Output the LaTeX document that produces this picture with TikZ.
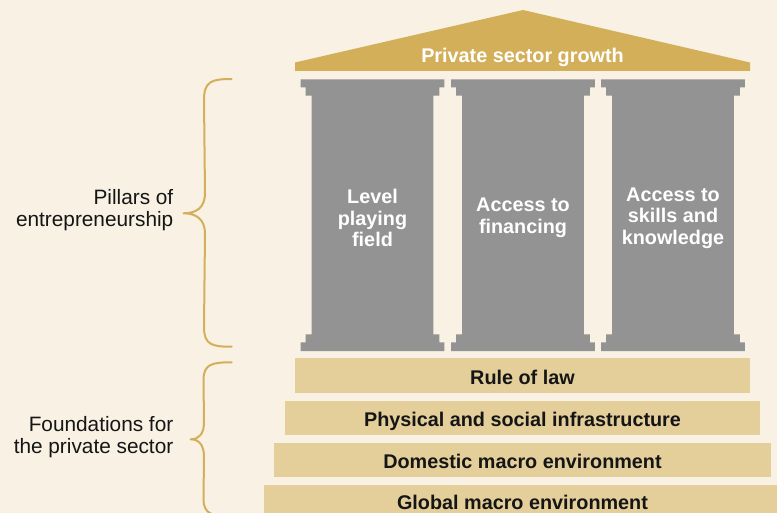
\documentclass[tikz,border=0pt]{standalone}
\usepackage{fontspec}
\setmainfont{Liberation Sans}
\definecolor{bg}{HTML}{F8F1E4}
\definecolor{gold}{HTML}{D4AF5A}
\definecolor{pillargray}{HTML}{939393}
\definecolor{sand}{HTML}{E4CF9B}
\definecolor{ink}{HTML}{151515}
\begin{document}
\begin{tikzpicture}[x=1pt,y=-1pt,
  lbl/.style={font=\fontsize{20.8}{21.8}\selectfont, text=ink, align=right, anchor=east, inner sep=0pt},
  ptext/.style={font=\fontsize{19.8}{21.5}\selectfont\bfseries, text=white, align=center, inner sep=0pt},
  layer/.style={fill=sand, draw=none, inner sep=0pt, text height=18pt, text depth=0pt,
    font=\fontsize{19.8}{21.5}\selectfont\bfseries, text=ink},
  bracebar/.style={draw=gold, line width=2pt, line cap=round, line join=round}]
\fill[bg] (0,0) rectangle (777,513);
\useasboundingbox (0,0) rectangle (777,513);
% roof
\fill[gold] (295,71) -- (295,62.5) -- (523,10) -- (750,62.5) -- (750,71) -- cycle;
\node[ptext] (growth) at (522.5,57) {Private sector growth};
% pillars
\foreach \c/\n in {372.5/p1,523/p2,673/p3}{
  \fill[pillargray] ({\c-71.8},79.3) -- ({\c+71.8},79.3) -- ({\c+71.8},87.3) -- ({\c+66.8},87.3)
    -- ({\c+66.8},95.7) -- ({\c+60.8},95.7) -- ({\c+60.8},334.3) -- ({\c+66.8},334.3)
    -- ({\c+66.8},342.3) -- ({\c+71.8},342.3) -- ({\c+71.8},351) -- ({\c-71.8},351)
    -- ({\c-71.8},342.3) -- ({\c-66.8},342.3) -- ({\c-66.8},334.3) -- ({\c-60.8},334.3)
    -- ({\c-60.8},95.7) -- ({\c-66.8},95.7) -- ({\c-66.8},87.3) -- ({\c-71.8},87.3) -- cycle;
}
\node[ptext] (t1) at (372.5,218) {Level\\playing\\field};
\node[ptext] (t2) at (523,218) {Access to\\financing};
\node[ptext] (t3) at (673,218) {Access to\\skills and\\knowledge};
% foundation layers
\node[layer, minimum width=455pt, minimum height=34.4pt] (rule) at (522.5,375.5) {Rule of law};
\node[layer, minimum width=475pt, minimum height=34pt] (phys) at (522.5,417.7) {Physical and social infrastructure};
\node[layer, minimum width=496.4pt, minimum height=34.3pt] (dom) at (522.5,459.9) {Domestic macro environment};
\node[layer, minimum width=517pt, minimum height=28.3pt, text height=20.9pt] (glob) at (522.5,498.85) {Global macro environment};
% braces
\draw[bracebar] (231.7,79) .. controls (212,79) and (204,81) .. (204,100)
  -- (205,193) .. controls (205,208) and (196,213.3) .. (183.5,213.3)
  .. controls (196,213.3) and (205,219) .. (205,234)
  -- (204,327) .. controls (204,345) and (212,346.7) .. (231.7,346.7);
\draw[bracebar] (231.7,362.3) .. controls (212,362.3) and (203.5,364) .. (203.5,380)
  -- (204,422) .. controls (204,434) and (199,439.3) .. (190.7,439.3)
  .. controls (199,439.3) and (204,445) .. (204,457)
  -- (203.5,499) .. controls (203.5,514) and (212,516.3) .. (231.7,516.3);
\node[lbl] (pillars) at (173.5,210.5) {Pillars of\\entrepreneurship};
\node[lbl] (found) at (173.5,437) {Foundations for\\the private sector};
\end{tikzpicture}
\end{document}
